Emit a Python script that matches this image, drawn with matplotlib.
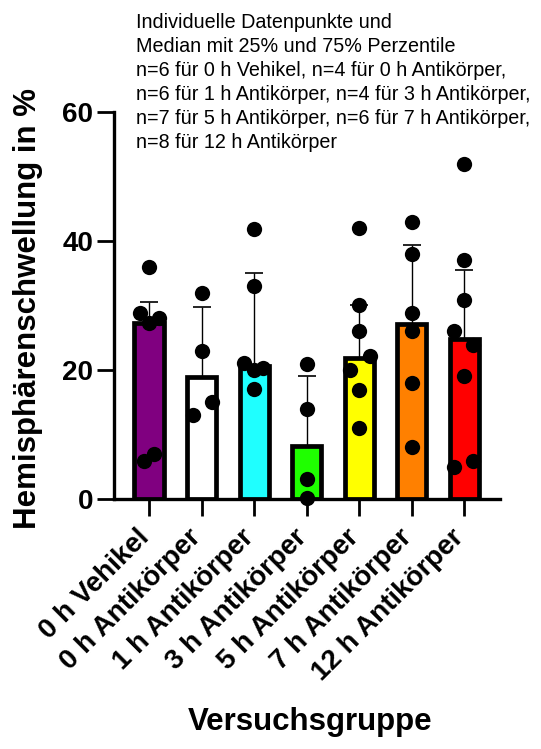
import numpy as np
import matplotlib
matplotlib.use("Agg")
import matplotlib.pyplot as plt
from matplotlib.transforms import ScaledTranslation

plt.rcParams['font.family'] = ['Liberation Sans', 'DejaVu Sans']

categories = ["0 h Vehikel", "0 h Antikörper", "1 h Antikörper", "3 h Antikörper",
              "5 h Antikörper", "7 h Antikörper", "12 h Antikörper"]

points_0 = [36.0, 28.9, 27.3, 28.1, 5.9, 7.0]
points_1 = [32.0, 23.0, 13.0, 15.1]
points_2 = [41.9, 33.0, 21.1, 20.0, 20.3, 17.0]
points_3 = [20.9, 13.9, 3.1, 0.1]
points_4 = [42.0, 30.0, 26.0, 22.1, 20.0, 16.9, 11.0]
points_5 = [43.0, 38.0, 28.9, 26.0, 18.0, 8.0]
points_6 = [52.0, 37.0, 30.9, 26.1, 23.9, 19.0, 5.9, 4.9]
points = [points_0, points_1, points_2, points_3, points_4, points_5, points_6]

medians = [27.3, 18.9, 20.6, 8.2, 21.8, 27.2, 24.8]
q75 = [30.6, 29.7, 35.1, 19.1, 30.0, 39.3, 35.5]

yticks = [0, 20, 40, 60]

# layout: horizontal jitter of dots (in category units)
jitter = [
    [0, -0.18, 0, 0.18, -0.1, 0.1],
    [0, 0, -0.16, 0.19],
    [0, 0, -0.19, 0, 0.17, 0],
    [0, 0, 0, 0],
    [0, 0, 0, 0.2, -0.18, 0, 0],
    [0, 0, 0, 0, 0, 0],
    [0, 0, 0, -0.19, 0.17, 0, 0.17, -0.19],
]
colors = ['#800080', '#ffffff', '#1fffff', '#1fff00', '#ffff00', '#ff8000', '#ff0000']

fig = plt.figure(figsize=(5.41, 7.49), dpi=100)
ax = fig.add_axes([0.2107, 0.3338, 0.7135, 0.5167])

x = np.arange(len(categories))
ax.bar(x, medians, width=0.56, color=colors, edgecolor='black', linewidth=3.4, zorder=2)
upper = np.array(q75) - np.array(medians)
ax.errorbar(x, medians, yerr=[np.zeros(len(x)), upper], fmt='none', ecolor='black',
            elinewidth=1.0, capsize=6.5, capthick=1.2, zorder=3)
for i, (vals, jit) in enumerate(zip(points, jitter)):
    ax.plot(np.array(jit) + i, vals, 'o', color='black', markersize=11, zorder=4,
            clip_on=False, markeredgewidth=0)

ax.set_xlim(-0.67, 6.68)
ax.set_ylim(0, 60)
ax.set_yticks(yticks)
ax.set_yticklabels([str(t) for t in yticks], fontsize=20, fontweight='bold')
ax.set_xticks(x)
ax.set_xticklabels(categories, rotation=45, ha='right', va='center', rotation_mode='anchor',
                   fontsize=20, fontweight='bold')
ax.tick_params(axis='y', length=12, width=2.0, pad=3)
ax.tick_params(axis='x', length=12, width=2.0, pad=13)
for lbl in ax.get_xticklabels():
    lbl.set_transform(lbl.get_transform() + ScaledTranslation(-3 / 72, 0, fig.dpi_scale_trans))
for s in ['top', 'right']:
    ax.spines[s].set_visible(False)
for s in ['left', 'bottom']:
    ax.spines[s].set_linewidth(2.4)
ax.set_ylabel('Hemisphärenschwellung in %', fontsize=22.5, fontweight='bold', va='center')
ax.yaxis.set_label_coords(-0.222, 0.491)
ax.set_xlabel('Versuchsgruppe', fontsize=22.5, fontweight='bold', va='center')
ax.xaxis.set_label_coords(0.508, -0.576)

title = ("Individuelle Datenpunkte und\n"
         "Median mit 25% und 75% Perzentile\n"
         "n=6 für 0 h Vehikel, n=4 für 0 h Antikörper,\n"
         "n=6 für 1 h Antikörper, n=4 für 3 h Antikörper,\n"
         "n=7 für 5 h Antikörper, n=6 für 7 h Antikörper,\n"
         "n=8 für 12 h Antikörper")
fig.text(136 / 541, 1 - 13 / 749, title, ha='left', va='top', fontsize=14.2,
         linespacing=1.33, color='black')

fig.savefig('out.png', dpi=100)
